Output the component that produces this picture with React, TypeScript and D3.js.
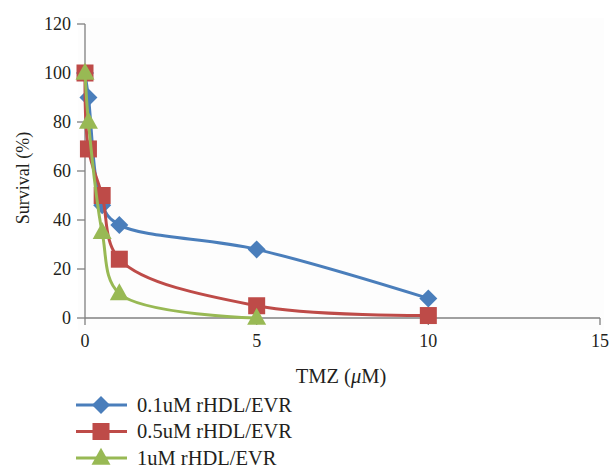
import React from "react";
import * as d3 from "d3";

const seriesNames = ["0.1uM rHDL/EVR", "0.5uM rHDL/EVR", "1uM rHDL/EVR"];
const blueX = [0, 0.1, 0.5, 1, 5, 10];
const blueY = [100, 90, 46, 38, 28, 8];
const redX = [0, 0.1, 0.5, 1, 5, 10];
const redY = [100, 69, 50, 24, 5, 1];
const greenX = [0, 0.1, 0.5, 1, 5];
const greenY = [100, 80, 35, 10, 0];
const xTicks = [0, 5, 10, 15];
const yTicks = [0, 20, 40, 60, 80, 100, 120];

const colors = ["#4a7ebb", "#be4b48", "#98b954"];
const markers = ["diamond", "square", "triangle"];

export default function App() {
  const x = d3.scaleLinear().domain([0, 15]).range([85, 600]);
  const y = d3.scaleLinear().domain([0, 120]).range([318, 24]);
  const series = [
    { xs: blueX, ys: blueY },
    { xs: redX, ys: redY },
    { xs: greenX, ys: greenY },
  ];
  const line = d3
    .line<[number, number]>()
    .x((d) => x(d[0]))
    .y((d) => y(d[1]))
    .curve(d3.curveCatmullRom.alpha(0.5));

  const marker = (kind: string, cx: number, cy: number, color: string, key: any) => {
    if (kind === "diamond") {
      const r = 9;
      return <path key={key} d={`M${cx},${cy - r}L${cx + r},${cy}L${cx},${cy + r}L${cx - r},${cy}Z`} fill={color} />;
    }
    if (kind === "square") {
      const s = 17;
      return <rect key={key} x={cx - s / 2} y={cy - s / 2} width={s} height={s} fill={color} />;
    }
    const w = 19, h = 17;
    return <path key={key} d={`M${cx},${cy - h * 0.6}L${cx + w / 2},${cy + h * 0.4}L${cx - w / 2},${cy + h * 0.4}Z`} fill={color} />;
  };

  const font = "'Liberation Serif', 'DejaVu Serif', serif";

  return (
    <svg width={610} height={468} style={{ position: "absolute", left: 0, top: 0 }} fontFamily={font}>
      <rect x={0} y={0} width={610} height={468} fill="#fff" />
      <rect x={78} y={18} width={526} height={312} fill="#fdfdfd" />
      {/* axes */}
      <line x1={x(0)} x2={x(0)} y1={y(120)} y2={y(0)} stroke="#808080" strokeWidth={1.3} />
      <line x1={x(0)} x2={x(15)} y1={y(0)} y2={y(0)} stroke="#808080" strokeWidth={1.3} />
      {yTicks.map((t) => (
        <g key={"y" + t}>
          <line x1={x(0) - 8} x2={x(0)} y1={y(t)} y2={y(t)} stroke="#808080" strokeWidth={1.3} />
          <text x={71} y={y(t)} dy="0.35em" textAnchor="end" fontSize={18} fill="#231f20">{t}</text>
        </g>
      ))}
      {xTicks.map((t) => (
        <g key={"x" + t}>
          <line x1={x(t)} x2={x(t)} y1={y(0)} y2={y(0) + 7} stroke="#808080" strokeWidth={1.3} />
          <text x={x(t)} y={y(0) + 29} textAnchor="middle" fontSize={18} fill="#231f20">{t}</text>
        </g>
      ))}
      <text transform="translate(29,178) rotate(-90)" textAnchor="middle" fontSize={18} fill="#231f20">Survival (%)</text>
      <text x={341} y={383} textAnchor="middle" fontSize={20.5} fill="#231f20">
        TMZ (<tspan fontStyle="italic">μ</tspan>M)
      </text>
      {series.map((s, i) => {
        const pts = s.xs.map((v, j) => [v, s.ys[j]] as [number, number]);
        return (
          <g key={"s" + i}>
            <path d={line(pts) || ""} fill="none" stroke={colors[i]} strokeWidth={3} />
            {pts.map((p, j) => marker(markers[i], x(p[0]), y(p[1]), colors[i], j))}
          </g>
        );
      })}
      {seriesNames.map((n, i) => {
        const ly = 405 + i * 26.5;
        return (
          <g key={"l" + i}>
            <line x1={76} x2={127} y1={ly} y2={ly} stroke={colors[i]} strokeWidth={3} />
            {marker(markers[i], 101, ly, colors[i], "m")}
            <text x={137} y={ly} dy="0.33em" fontSize={20.5} fill="#231f20">{n}</text>
          </g>
        );
      })}
    </svg>
  );
}
